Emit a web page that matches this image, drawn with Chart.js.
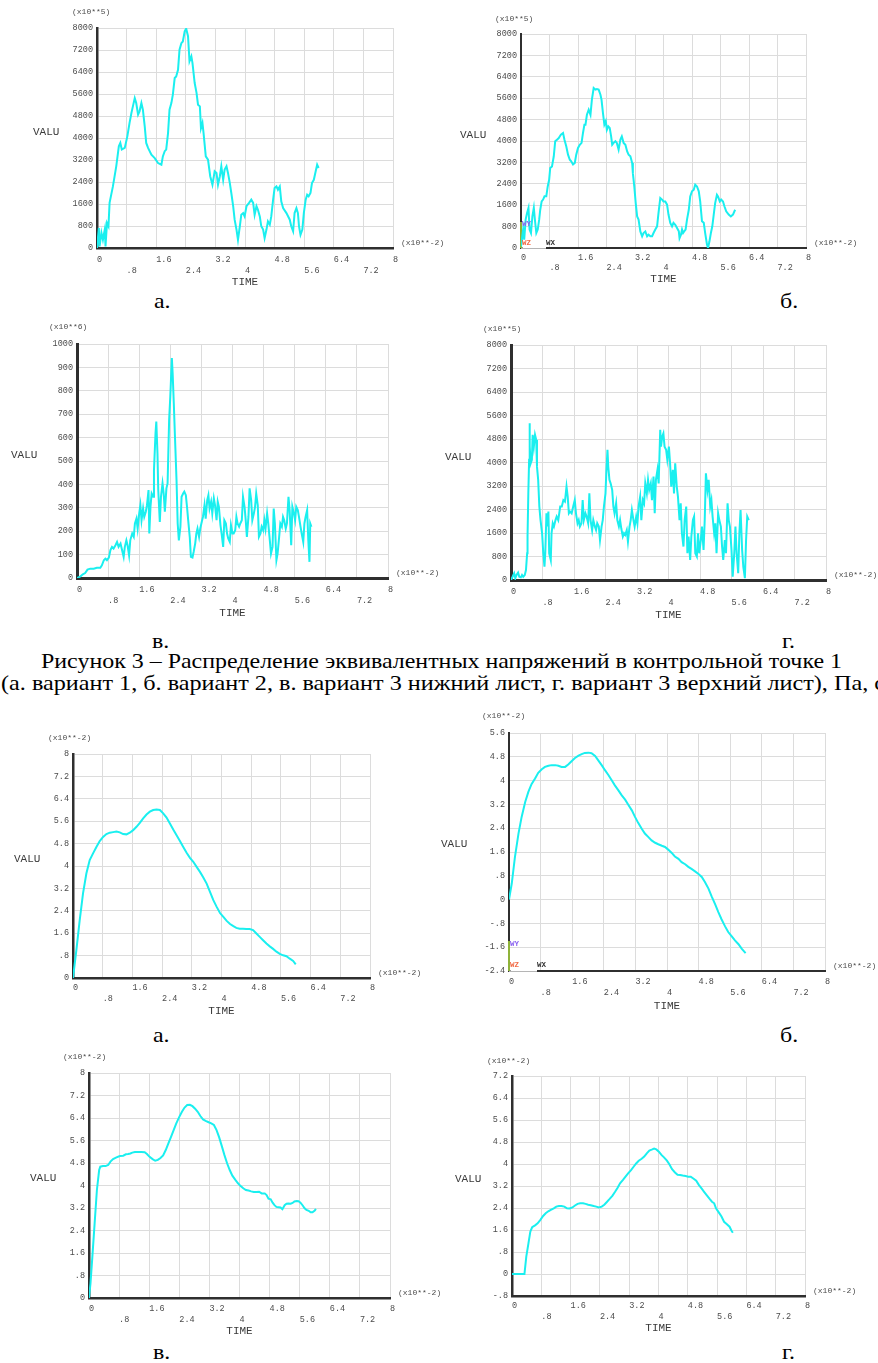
<!DOCTYPE html>
<html>
<head>
<meta charset="utf-8">
<title>Рисунок 3</title>
<script src="https://cdn.jsdelivr.net/npm/chart.js"></script>
<style>
  html, body { margin: 0; padding: 0; background: #fff; }
  body { position: relative; width: 878px; height: 1363px; overflow: hidden; }
  canvas { position: absolute; }
  .cap { position: absolute; font-family: "Liberation Serif", "Times New Roman", "DejaVu Serif", serif; font-size: 21.5px; line-height: 1; white-space: nowrap; color: #000; transform-origin: 0 0; }
</style>
</head>
<body>

<div class="cap" data-x="154" data-base="309">а.</div>
<div class="cap" data-x="780" data-base="309">б.</div>
<div class="cap" data-x="152" data-base="649">в.</div>
<div class="cap" data-x="782" data-base="649">г.</div>
<div class="cap" id="figTitle" data-x="41" data-base="669" data-w="801">Рисунок 3 – Распределение эквивалентных напряжений в контрольной точке 1</div>
<div class="cap" data-x="1" data-base="691" data-w="884">(а. вариант 1, б. вариант 2, в. вариант 3 нижний лист, г. вариант 3 верхний лист), Па, с</div>
<div class="cap" data-x="153" data-base="1043">а.</div>
<div class="cap" data-x="780" data-base="1043">б.</div>
<div class="cap" data-x="153" data-base="1360">в.</div>
<div class="cap" data-x="782" data-base="1360">г.</div>

<script>
"use strict";

// ---- axis ticks ----
var timeTicks = [0, 0.8, 1.6, 2.4, 3.2, 4, 4.8, 5.6, 6.4, 7.2, 8];
var timeLabels = ['0', '.8', '1.6', '2.4', '3.2', '4', '4.8', '5.6', '6.4', '7.2', '8'];

var stressTicks = [0, 800, 1600, 2400, 3200, 4000, 4800, 5600, 6400, 7200, 8000];
var stressLabels = ['0', '800', '1600', '2400', '3200', '4000', '4800', '5600', '6400', '7200', '8000'];
var stress6Ticks = [0, 100, 200, 300, 400, 500, 600, 700, 800, 900, 1000];
var stress6Labels = ['0', '100', '200', '300', '400', '500', '600', '700', '800', '900', '1000'];

var dispTicks = [0, 0.8, 1.6, 2.4, 3.2, 4, 4.8, 5.6, 6.4, 7.2, 8];
var dispLabels = ['0', '.8', '1.6', '2.4', '3.2', '4', '4.8', '5.6', '6.4', '7.2', '8'];
var dispBTicks = [-2.4, -1.6, -0.8, 0, 0.8, 1.6, 2.4, 3.2, 4, 4.8, 5.6];
var dispBLabels = ['-2.4', '-1.6', '-.8', '0', '.8', '1.6', '2.4', '3.2', '4', '4.8', '5.6'];
var dispGTicks = [-0.8, 0, 0.8, 1.6, 2.4, 3.2, 4, 4.8, 5.6, 6.4, 7.2];
var dispGLabels = ['-.8', '0', '.8', '1.6', '2.4', '3.2', '4', '4.8', '5.6', '6.4', '7.2'];

// ---- stress, variant 1 (x10**5) ----
var s1Time = [0, 0.05, 0.07, 0.12, 0.16, 0.21, 0.23, 0.27, 0.31, 0.34,
  0.43, 0.52, 0.59, 0.63, 0.67, 0.75, 0.82, 0.88, 0.93, 0.97,
  1.02, 1.06, 1.11, 1.15, 1.20, 1.24, 1.29, 1.33, 1.38, 1.47,
  1.56, 1.65, 1.74, 1.78, 1.83, 1.87, 1.92, 1.96, 2.01, 2.05,
  2.10, 2.14, 2.19, 2.23, 2.28, 2.32, 2.37, 2.41, 2.46, 2.50,
  2.55, 2.58, 2.64, 2.69, 2.73, 2.78, 2.81, 2.85, 2.88, 2.94,
  3.00, 3.06, 3.12, 3.18, 3.23, 3.27, 3.32, 3.36, 3.41, 3.45,
  3.50, 3.54, 3.59, 3.63, 3.68, 3.72, 3.77, 3.81, 3.86, 3.90,
  3.95, 3.99, 4.04, 4.11, 4.17, 4.22, 4.26, 4.31, 4.35, 4.40,
  4.44, 4.49, 4.53, 4.58, 4.62, 4.67, 4.71, 4.76, 4.80, 4.85,
  4.89, 4.94, 4.98, 5.03, 5.12, 5.21, 5.25, 5.30, 5.34, 5.39,
  5.43, 5.46, 5.50, 5.55, 5.59, 5.64, 5.68, 5.72, 5.77, 5.81,
  5.86, 5.90, 5.95, 5.99];
var s1Value = [0, 730, 60, 550, 300, 670, 60, 910, 790, 1640,
  2240, 2970, 3700, 3820, 3580, 3640, 4060, 4550, 4910, 5150,
  5450, 5270, 4850, 4970, 5270, 5030, 4420, 3820, 3640, 3390,
  3270, 3090, 3030, 3330, 3520, 3580, 4180, 5030, 5270, 5580,
  6180, 6240, 6480, 7210, 7450, 7510, 7880, 7980, 7700, 6790,
  6970, 6730, 6000, 5640, 5210, 5150, 4360, 4550, 4180, 3330,
  3210, 2610, 2300, 2790, 2730, 2300, 2610, 2970, 2480, 2850,
  2970, 2730, 2360, 2000, 1520, 1030, 670, 300, 790, 1210,
  1270, 1150, 1520, 1640, 1760, 1640, 1210, 1520, 1390, 1150,
  790, 670, 360, 670, 970, 850, 1150, 1760, 2180, 2240,
  2120, 2240, 1700, 1450, 1270, 1030, 790, 610, 1270, 1450,
  1270, 790, 480, 670, 1270, 1760, 1940, 1880, 2000, 2360,
  2480, 2730, 3030, 2910];

// ---- stress, variant 2 (x10**5) ----
var s2Time = [0, 0.06, 0.09, 0.13, 0.17, 0.21, 0.24, 0.28, 0.32, 0.36,
  0.39, 0.43, 0.47, 0.51, 0.54, 0.58, 0.62, 0.66, 0.71, 0.75,
  0.79, 0.82, 0.87, 0.92, 0.96, 1.01, 1.06, 1.12, 1.18, 1.22,
  1.27, 1.32, 1.37, 1.41, 1.46, 1.51, 1.55, 1.60, 1.65, 1.70,
  1.74, 1.78, 1.81, 1.85, 1.90, 1.95, 1.99, 2.04, 2.09, 2.13,
  2.18, 2.23, 2.26, 2.30, 2.34, 2.38, 2.41, 2.45, 2.49, 2.53,
  2.56, 2.60, 2.65, 2.69, 2.74, 2.79, 2.83, 2.88, 2.93, 2.98,
  3.02, 3.07, 3.12, 3.14, 3.18, 3.22, 3.26, 3.30, 3.35, 3.40,
  3.44, 3.49, 3.54, 3.58, 3.63, 3.68, 3.72, 3.77, 3.82, 3.86,
  3.91, 3.96, 4.00, 4.05, 4.10, 4.14, 4.19, 4.24, 4.28, 4.33,
  4.38, 4.43, 4.45, 4.49, 4.52, 4.55, 4.58, 4.62, 4.66, 4.71,
  4.75, 4.80, 4.85, 4.89, 4.94, 4.99, 5.03, 5.08, 5.13, 5.17,
  5.22, 5.25, 5.29, 5.33, 5.37, 5.41, 5.45, 5.50, 5.53, 5.58,
  5.62, 5.67, 5.71, 5.76, 5.83, 5.89, 5.95, 6.01];
var s2Value = [60, 690, 310, 1060, 1310, 1500, 690, 560, 1180, 1500,
  1060, 560, 690, 1060, 1430, 1740, 1810, 1930, 1930, 2300,
  2550, 2990, 3050, 3430, 3990, 4050, 4110, 4240, 4300, 4050,
  3800, 3490, 3300, 3240, 3120, 3180, 3490, 3740, 3860, 3930,
  4300, 4610, 4610, 4980, 5170, 4980, 5550, 5980, 5920, 5940,
  5920, 5730, 5550, 5050, 4610, 4740, 4420, 4550, 4490, 4170,
  3860, 3930, 3990, 3930, 3680, 4050, 4170, 3930, 3860, 3610,
  3490, 3430, 3180, 2800, 2300, 1680, 1180, 1060, 620, 440,
  560, 620, 440, 500, 440, 440, 560, 690, 810, 1310,
  1870, 1810, 1740, 1740, 1620, 1250, 940, 810, 940, 870,
  750, 620, 370, 500, 690, 560, 620, 690, 1060, 1430,
  1930, 2120, 2180, 2370, 2300, 2120, 1740, 1000, 940, 560,
  130, 0, 250, 560, 810, 1250, 1680, 1990, 1930, 1740,
  1810, 1740, 1560, 1370, 1250, 1180, 1250, 1430];

// ---- stress, variant 3 lower sheet (x10**6) ----
var s3Time = [0, 0.09, 0.15, 0.21, 0.27, 0.34, 0.43, 0.51, 0.60, 0.64,
  0.69, 0.73, 0.77, 0.82, 0.86, 0.90, 0.94, 0.99, 1.03, 1.07,
  1.12, 1.16, 1.20, 1.23, 1.27, 1.30, 1.34, 1.37, 1.42, 1.46,
  1.49, 1.53, 1.56, 1.60, 1.63, 1.66, 1.70, 1.73, 1.77, 1.80,
  1.84, 1.86, 1.89, 1.92, 1.96, 1.98, 2.02, 2.04, 2.07, 2.09,
  2.13, 2.16, 2.20, 2.23, 2.26, 2.30, 2.33, 2.37, 2.40, 2.44,
  2.46, 2.49, 2.52, 2.56, 2.59, 2.62, 2.66, 2.69, 2.73, 2.76,
  2.80, 2.83, 2.86, 2.90, 2.93, 2.97, 3.00, 3.04, 3.07, 3.10,
  3.14, 3.17, 3.21, 3.24, 3.28, 3.31, 3.35, 3.38, 3.41, 3.45,
  3.48, 3.52, 3.55, 3.59, 3.62, 3.65, 3.69, 3.72, 3.76, 3.79,
  3.83, 3.86, 3.89, 3.93, 3.96, 4.00, 4.03, 4.07, 4.10, 4.13,
  4.17, 4.20, 4.24, 4.27, 4.31, 4.34, 4.37, 4.41, 4.44, 4.48,
  4.51, 4.55, 4.58, 4.61, 4.65, 4.68, 4.72, 4.75, 4.79, 4.82,
  4.85, 4.89, 4.92, 4.96, 4.99, 5.03, 5.06, 5.09, 5.13, 5.16,
  5.20, 5.23, 5.27, 5.30, 5.33, 5.37, 5.40, 5.44, 5.47, 5.51,
  5.54, 5.58, 5.61, 5.64, 5.68, 5.71, 5.75, 5.78, 5.82, 5.85,
  5.88, 5.92, 5.95, 5.98, 6.00, 6.03];
var s3Value = [0, 7, 16, 21, 36, 40, 40, 44, 44, 54,
  76, 83, 76, 87, 119, 133, 126, 140, 154, 133,
  147, 119, 90, 133, 161, 140, 97, 161, 190, 176,
  233, 254, 211, 276, 311, 247, 297, 261, 283, 311,
  376, 190, 304, 361, 347, 461, 619, 669, 533, 376,
  240, 347, 404, 361, 283, 383, 404, 676, 776, 940,
  876, 747, 604, 419, 233, 161, 219, 347, 361, 369,
  354, 304, 247, 176, 90, 87, 111, 147, 190, 211,
  176, 211, 240, 261, 311, 254, 333, 354, 297, 326,
  276, 340, 311, 247, 326, 304, 226, 190, 133, 247,
  233, 190, 169, 154, 226, 190, 190, 204, 261, 233,
  219, 233, 247, 347, 304, 247, 176, 261, 383, 333,
  247, 276, 304, 361, 311, 176, 190, 219, 204, 247,
  211, 276, 233, 161, 104, 133, 297, 233, 76, 104,
  176, 233, 219, 261, 247, 211, 233, 347, 290, 140,
  304, 276, 247, 304, 290, 261, 219, 190, 154, 233,
  261, 290, 161, 69, 233, 219];

// ---- stress, variant 3 upper sheet (x10**5) ----
var s4Time = [0, 0.04, 0.08, 0.11, 0.14, 0.18, 0.21, 0.25, 0.28, 0.31,
  0.35, 0.38, 0.41, 0.42, 0.44, 0.46, 0.47, 0.48, 0.50, 0.53,
  0.55, 0.58, 0.61, 0.64, 0.66, 0.69, 0.72, 0.75, 0.79, 0.82,
  0.85, 0.87, 0.90, 0.92, 0.95, 0.97, 1.01, 1.03, 1.06, 1.09,
  1.13, 1.16, 1.20, 1.25, 1.29, 1.33, 1.37, 1.41, 1.44, 1.47,
  1.50, 1.54, 1.58, 1.62, 1.65, 1.69, 1.72, 1.75, 1.79, 1.82,
  1.85, 1.89, 1.92, 1.96, 1.99, 2.02, 2.06, 2.09, 2.13, 2.16,
  2.19, 2.23, 2.26, 2.30, 2.33, 2.36, 2.40, 2.42, 2.45, 2.47,
  2.50, 2.53, 2.57, 2.60, 2.63, 2.67, 2.70, 2.74, 2.77, 2.80,
  2.84, 2.87, 2.90, 2.94, 2.97, 3.01, 3.04, 3.07, 3.11, 3.14,
  3.18, 3.21, 3.24, 3.28, 3.31, 3.35, 3.38, 3.41, 3.45, 3.48,
  3.51, 3.55, 3.58, 3.62, 3.65, 3.68, 3.72, 3.75, 3.79, 3.81,
  3.84, 3.87, 3.90, 3.94, 3.97, 4.01, 4.04, 4.07, 4.11, 4.14,
  4.17, 4.21, 4.24, 4.28, 4.31, 4.34, 4.38, 4.41, 4.45, 4.48,
  4.51, 4.55, 4.58, 4.62, 4.65, 4.68, 4.72, 4.75, 4.78, 4.82,
  4.85, 4.89, 4.92, 4.95, 4.99, 5.02, 5.06, 5.09, 5.12, 5.16,
  5.19, 5.22, 5.26, 5.29, 5.33, 5.36, 5.39, 5.43, 5.46, 5.50,
  5.53, 5.56, 5.60, 5.63, 5.67, 5.70, 5.73, 5.77, 5.80, 5.83,
  5.87, 5.90, 5.94, 5.97, 6.00, 6.04];
var s4Value = [0, 110, 230, 60, 170, 250, 110, 90, 170, 110,
  170, 340, 910, 1480, 2950, 4090, 5340, 4540, 3970, 4090,
  4940, 4540, 4940, 4770, 3860, 3410, 2500, 2040, 1590, 910,
  450, 910, 2270, 1820, 2330, 910, 680, 1590, 1930, 1820,
  2040, 2160, 2040, 2500, 2500, 2720, 2670, 3180, 2840, 2270,
  2330, 2270, 2500, 2720, 2270, 1930, 2040, 1820, 1930, 2720,
  2040, 2270, 2160, 1930, 2950, 2040, 1700, 2040, 1820, 1700,
  1930, 1820, 1360, 1820, 2040, 2500, 2950, 3630, 4430, 3860,
  3410, 3290, 3070, 2500, 2270, 2610, 2040, 1820, 2040, 1760,
  1480, 1590, 1530, 1700, 1310, 1820, 2040, 2380, 2040, 1820,
  2160, 1930, 2500, 2840, 2040, 2720, 2610, 3290, 2950, 3410,
  3070, 3290, 2720, 3520, 2270, 3410, 3750, 3290, 5110, 4540,
  4880, 4990, 4540, 4430, 4090, 4540, 3970, 3180, 3750, 2950,
  3970, 3180, 2840, 2040, 2610, 1590, 1140, 2040, 2500, 910,
  1480, 680, 1480, 2040, 2160, 910, 800, 1590, 910, 1360,
  1820, 1020, 2040, 3630, 3070, 3410, 2500, 2720, 2160, 1590,
  1930, 910, 2270, 2040, 1820, 1140, 680, 1360, 910, 2610,
  2040, 1820, 1020, 110, 910, 1820, 910, 230, 1590, 2380,
  1020, 450, 60, 1360, 2160, 2040];

// ---- displacement, variant 1 (x10**-2) ----
var d1Time = [0, 0.09, 0.18, 0.27, 0.36, 0.45, 0.54, 0.63, 0.72, 0.81,
  0.90, 0.99, 1.08, 1.17, 1.26, 1.35, 1.44, 1.53, 1.62, 1.71,
  1.80, 1.89, 1.98, 2.07, 2.16, 2.25, 2.34, 2.43, 2.52, 2.61,
  2.70, 2.79, 2.88, 2.97, 3.06, 3.15, 3.24, 3.33, 3.42, 3.51,
  3.60, 3.69, 3.78, 3.87, 3.96, 4.05, 4.14, 4.23, 4.32, 4.40,
  4.49, 4.58, 4.67, 4.76, 4.85, 4.94, 5.03, 5.12, 5.21, 5.30,
  5.39, 5.48, 5.57, 5.66, 5.75, 5.84, 5.93, 6.00];
var d1Value = [0, 0.99, 2.06, 3.02, 3.73, 4.21, 4.45, 4.68, 4.89, 5.04,
  5.14, 5.19, 5.21, 5.23, 5.20, 5.14, 5.13, 5.19, 5.28, 5.40,
  5.54, 5.70, 5.84, 5.94, 6.00, 6.02, 6.00, 5.88, 5.73, 5.52,
  5.30, 5.10, 4.89, 4.68, 4.47, 4.29, 4.15, 3.97, 3.79, 3.59,
  3.37, 3.08, 2.78, 2.54, 2.32, 2.18, 2.04, 1.93, 1.85, 1.79,
  1.76, 1.76, 1.75, 1.75, 1.71, 1.59, 1.47, 1.35, 1.23, 1.13,
  1.04, 0.94, 0.86, 0.81, 0.78, 0.69, 0.61, 0.49];

// ---- displacement, variant 2 (x10**-2) ----
var d2Time = [0, 0.07, 0.15, 0.24, 0.32, 0.41, 0.49, 0.57, 0.66, 0.74,
  0.83, 0.91, 1.00, 1.08, 1.17, 1.25, 1.33, 1.42, 1.50, 1.59,
  1.67, 1.76, 1.84, 1.92, 2.01, 2.09, 2.18, 2.26, 2.35, 2.43,
  2.52, 2.60, 2.68, 2.77, 2.85, 2.94, 3.02, 3.11, 3.19, 3.27,
  3.36, 3.44, 3.53, 3.61, 3.70, 3.78, 3.87, 3.95, 4.03, 4.12,
  4.20, 4.29, 4.37, 4.46, 4.54, 4.62, 4.71, 4.79, 4.88, 4.96,
  5.05, 5.13, 5.22, 5.30, 5.38, 5.47, 5.55, 5.64, 5.72, 5.81,
  5.89, 5.99];
var d2Value = [0, 0.54, 1.43, 2.22, 2.78, 3.28, 3.62, 3.88, 4.07, 4.26,
  4.38, 4.46, 4.50, 4.52, 4.52, 4.50, 4.46, 4.46, 4.54, 4.66,
  4.76, 4.84, 4.89, 4.93, 4.94, 4.92, 4.83, 4.68, 4.51, 4.35,
  4.18, 4.01, 3.84, 3.67, 3.51, 3.36, 3.19, 3.00, 2.78, 2.58,
  2.38, 2.22, 2.10, 1.99, 1.91, 1.86, 1.81, 1.77, 1.68, 1.57,
  1.45, 1.37, 1.26, 1.19, 1.10, 1.03, 0.95, 0.87, 0.76, 0.59,
  0.37, 0.11, -0.16, -0.42, -0.66, -0.90, -1.09, -1.24, -1.37, -1.50,
  -1.65, -1.80];

// ---- displacement, variant 3 lower sheet (x10**-2) ----
var d3Time = [0, 0.04, 0.09, 0.15, 0.21, 0.27, 0.30, 0.37, 0.44, 0.51,
  0.57, 0.64, 0.73, 0.82, 0.91, 0.98, 1.04, 1.10, 1.15, 1.22,
  1.30, 1.39, 1.48, 1.54, 1.61, 1.69, 1.76, 1.83, 1.90, 1.97,
  2.04, 2.11, 2.18, 2.25, 2.32, 2.40, 2.47, 2.54, 2.61, 2.68,
  2.75, 2.82, 2.89, 2.96, 3.03, 3.10, 3.18, 3.25, 3.32, 3.39,
  3.46, 3.53, 3.60, 3.67, 3.74, 3.81, 3.89, 3.96, 4.03, 4.10,
  4.17, 4.24, 4.31, 4.38, 4.45, 4.52, 4.59, 4.67, 4.72, 4.77,
  4.83, 4.88, 4.93, 4.98, 5.04, 5.09, 5.14, 5.20, 5.25, 5.30,
  5.36, 5.41, 5.46, 5.52, 5.57, 5.62, 5.68, 5.73, 5.78, 5.84,
  5.89, 5.94, 6.00, 6.03];
var d3Value = [0, 0.53, 1.48, 2.66, 3.84, 4.55, 4.67, 4.69, 4.69, 4.73,
  4.85, 4.94, 5.00, 5.05, 5.06, 5.11, 5.12, 5.14, 5.17, 5.19,
  5.19, 5.19, 5.18, 5.12, 5.02, 4.94, 4.88, 4.91, 4.98, 5.07,
  5.26, 5.50, 5.73, 5.97, 6.21, 6.44, 6.62, 6.77, 6.86, 6.87,
  6.82, 6.73, 6.62, 6.47, 6.35, 6.30, 6.25, 6.21, 6.15, 5.97,
  5.71, 5.40, 5.08, 4.79, 4.55, 4.35, 4.20, 4.08, 3.98, 3.90,
  3.84, 3.82, 3.79, 3.77, 3.77, 3.78, 3.72, 3.72, 3.66, 3.53,
  3.51, 3.39, 3.30, 3.24, 3.23, 3.22, 3.16, 3.30, 3.35, 3.36,
  3.35, 3.38, 3.43, 3.45, 3.44, 3.39, 3.29, 3.19, 3.13, 3.10,
  3.05, 3.05, 3.11, 3.17];

// ---- displacement, variant 3 upper sheet (x10**-2) ----
var d4Time = [0, 0.14, 0.27, 0.34, 0.39, 0.45, 0.50, 0.55, 0.63, 0.70,
  0.77, 0.85, 0.92, 0.99, 1.06, 1.14, 1.21, 1.28, 1.35, 1.43,
  1.50, 1.57, 1.65, 1.72, 1.79, 1.86, 1.94, 2.01, 2.08, 2.15,
  2.23, 2.30, 2.37, 2.45, 2.52, 2.59, 2.66, 2.74, 2.81, 2.88,
  2.95, 3.03, 3.10, 3.17, 3.25, 3.32, 3.39, 3.46, 3.54, 3.61,
  3.68, 3.75, 3.83, 3.88, 3.94, 4.01, 4.08, 4.15, 4.23, 4.30,
  4.37, 4.45, 4.52, 4.59, 4.66, 4.74, 4.81, 4.88, 4.95, 5.03,
  5.10, 5.17, 5.25, 5.32, 5.39, 5.46, 5.52, 5.57, 5.65, 5.72,
  5.79, 5.86, 5.94, 5.99, 6.03];
var d4Value = [0, 0, 0, 0, 0.63, 1.12, 1.54, 1.70, 1.77, 1.84,
  1.96, 2.11, 2.21, 2.28, 2.33, 2.39, 2.45, 2.47, 2.47, 2.45,
  2.39, 2.38, 2.42, 2.49, 2.55, 2.57, 2.57, 2.55, 2.52, 2.50,
  2.47, 2.45, 2.42, 2.45, 2.52, 2.62, 2.72, 2.84, 2.98, 3.13,
  3.30, 3.42, 3.54, 3.66, 3.78, 3.90, 4.02, 4.12, 4.19, 4.27,
  4.39, 4.49, 4.53, 4.56, 4.53, 4.45, 4.33, 4.24, 4.12, 3.98,
  3.81, 3.69, 3.61, 3.60, 3.58, 3.56, 3.54, 3.54, 3.47, 3.39,
  3.24, 3.12, 2.98, 2.86, 2.74, 2.63, 2.57, 2.39, 2.23, 2.09,
  1.90, 1.82, 1.72, 1.58, 1.50];

// ---- look ----
var CYAN = '#1aefef', GRID = '#dcdcdc', AXIS = '#2f2f2f', INK = '#4c4c4c';
var MONO = '"Liberation Mono", "DejaVu Sans Mono", monospace';
var ML = 72, MT = 22, MR = 56, MB = 44;   // canvas margins round the plot box

// where each plot box sits on the page, and its side texts
var panels = [
  { time: s1Time, value: s1Value, yTicks: stressTicks, yLabels: stressLabels, exp: '(x10**5)',
    area: [97, 28, 393, 248], axis: 2.5, xPad: 6.5, xLine: 11, expAt: [-25, -16], valuAt: [-64, -6], timeAt: 34 },
  { time: s2Time, value: s2Value, yTicks: stressTicks, yLabels: stressLabels, exp: '(x10**5)',
    area: [521, 34, 806, 248], axis: 2, xPad: 5, xLine: 10, expAt: [-26, -15], valuAt: [-61, -6], timeAt: 31,
    triad: { wy: -24, wz: -5, wx: 25, h: 26 } },
  { time: s3Time, value: s3Value, yTicks: stress6Ticks, yLabels: stress6Labels, exp: '(x10**6)',
    area: [77, 344, 388, 578], axis: 3, xPad: 6.5, xLine: 11, expAt: [-28, -17], valuAt: [-66, -6], timeAt: 35 },
  { time: s4Time, value: s4Value, yTicks: stressTicks, yLabels: stressLabels, exp: '(x10**5)',
    area: [511, 345, 826, 580], axis: 3, xPad: 6.5, xLine: 11, expAt: [-28, -16], valuAt: [-66, -5], timeAt: 35 },
  { time: d1Time, value: d1Value, yTicks: dispTicks, yLabels: dispLabels, exp: '(x10**-2)',
    area: [73, 754, 370, 978], axis: 2.5, xPad: 4.5, xLine: 11, expAt: [-25, -16], valuAt: [-59, -7], timeAt: 33 },
  { time: d2Time, value: d2Value, yTicks: dispBTicks, yLabels: dispBLabels, exp: '(x10**-2)',
    area: [509, 733, 825, 971], axis: 2, xPad: 5.5, xLine: 11, expAt: [-27, -17], valuAt: [-68, -8], timeAt: 35,
    triad: { wy: -27, wz: -6, wx: 28, h: 30 } },
  { time: d3Time, value: d3Value, yTicks: dispTicks, yLabels: dispLabels, exp: '(x10**-2)',
    area: [89, 1073, 390, 1298], axis: 2.5, xPad: 5.5, xLine: 11, expAt: [-26, -16], valuAt: [-59, -7], timeAt: 33 },
  { time: d4Time, value: d4Value, yTicks: dispGTicks, yLabels: dispGLabels, exp: '(x10**-2)',
    area: [512, 1076, 805, 1296], axis: 2.5, xPad: 4.5, xLine: 11, expAt: [-25, -15], valuAt: [-57, -7], timeAt: 32 }
];

// texts round the plot box, the way the solver prints them
var ansysText = {
  id: 'ansysText',
  beforeDatasetsDraw: function(chart, args, o) {
    if (!o.triad) return;
    var ctx = chart.ctx, a = chart.chartArea, tr = o.triad;
    ctx.save();
    ctx.strokeStyle = '#fff';
    ctx.lineWidth = o.axis + 1.5;
    ctx.beginPath(); ctx.moveTo(a.left + 1.5, a.bottom); ctx.lineTo(a.left + tr.wx, a.bottom); ctx.stroke();
    ctx.strokeStyle = '#b5b5b5';
    ctx.lineWidth = 1;
    ctx.beginPath(); ctx.moveTo(a.left, a.bottom + 0.5); ctx.lineTo(a.left + tr.wx, a.bottom + 0.5); ctx.stroke();
    ctx.strokeStyle = '#8fb33a';
    ctx.lineWidth = o.axis;
    ctx.beginPath(); ctx.moveTo(a.left, a.bottom); ctx.lineTo(a.left, a.bottom - tr.h); ctx.stroke();
    ctx.restore();
  },
  afterDraw: function(chart, args, o) {
    var ctx = chart.ctx, a = chart.chartArea;
    ctx.save();
    ctx.textBaseline = 'middle';
    ctx.textAlign = 'left';
    ctx.fillStyle = INK;
    ctx.font = '8px ' + MONO;
    ctx.fillText(o.exp, a.left + o.expAt[0], a.top + o.expAt[1]);
    ctx.fillText('(x10**-2)', a.right + 8, a.bottom - 5);
    ctx.fillStyle = '#3a3a3a';
    ctx.font = '11px ' + MONO;
    ctx.fillText('VALU', a.left + o.valuAt[0], (a.top + a.bottom) / 2 + o.valuAt[1]);
    ctx.textAlign = 'center';
    ctx.fillText('TIME', (a.left + a.right) / 2, a.bottom + o.timeAt);
    if (o.triad) {
      ctx.textAlign = 'left';
      ctx.font = 'bold 7.5px ' + MONO;
      ctx.fillStyle = '#8a63f0';
      ctx.fillText('WY', a.left + 1, a.bottom + o.triad.wy);
      ctx.fillStyle = '#f26a45';
      ctx.fillText('WZ', a.left + 1, a.bottom + o.triad.wz);
      ctx.fillStyle = '#333';
      ctx.fillText('WX', a.left + o.triad.wx, a.bottom + o.triad.wz);
    }
    ctx.restore();
  }
};

function drawPanel(p) {
  var l = p.area[0], t = p.area[1], r = p.area[2], b = p.area[3];
  var w = r - l + ML + MR, h = b - t + MT + MB;
  var canvas = document.createElement('canvas');
  canvas.width = w;
  canvas.height = h;
  canvas.style.left = (l - ML) + 'px';
  canvas.style.top = (t - MT) + 'px';
  canvas.style.width = w + 'px';
  canvas.style.height = h + 'px';
  document.body.appendChild(canvas);

  var points = p.time.map(function(x, i) { return { x: x, y: p.value[i] }; });
  var yTicks = p.yTicks, yLabels = p.yLabels;

  new Chart(canvas.getContext('2d'), {
    type: 'line',
    data: { datasets: [{ data: points, borderColor: CYAN, borderWidth: 2, pointRadius: 0, tension: 0, fill: false }] },
    options: {
      responsive: false,
      animation: false,
      devicePixelRatio: 1,
      layout: { padding: { left: 0, top: MT, right: MR, bottom: 0 } },
      plugins: {
        legend: { display: false },
        tooltip: { enabled: false },
        ansysText: p
      },
      scales: {
        x: {
          type: 'linear', min: 0, max: 8,
          afterFit: function(s) { s.height = MB; },
          afterBuildTicks: function(s) { s.ticks = timeTicks.map(function(v) { return { value: v }; }); },
          grid: { color: GRID, lineWidth: 1, drawTicks: false },
          border: { display: true, color: AXIS, width: p.axis },
          ticks: {
            autoSkip: false, maxRotation: 0, minRotation: 0, align: 'start', padding: p.xPad, color: INK,
            font: { family: MONO, size: 8.5, lineHeight: p.xLine + 'px' },
            // ticks alternate between two rows
            callback: function(v, i) { return i % 2 ? ['', timeLabels[i]] : timeLabels[i]; }
          }
        },
        y: {
          type: 'linear', min: yTicks[0], max: yTicks[yTicks.length - 1],
          afterFit: function(s) { s.width = ML; },
          afterBuildTicks: function(s) { s.ticks = yTicks.map(function(v) { return { value: v }; }); },
          grid: { color: GRID, lineWidth: 1, drawTicks: false },
          border: { display: true, color: AXIS, width: p.axis },
          ticks: {
            autoSkip: false, padding: 4, color: INK,
            font: { family: MONO, size: 8.5 },
            callback: function(v, i) { return yLabels[i]; }
          }
        }
      }
    },
    plugins: [ansysText]
  });
}

panels.forEach(drawPanel);

// captions: each long line is stretched to the width it has in the figure
var FS = 21.5;
var title = document.getElementById('figTitle');
var baseSx = Math.min(1.3, 801 / title.getBoundingClientRect().width);
document.querySelectorAll('.cap').forEach(function(el) {
  var target = el.getAttribute('data-w');
  var sx = target ? Math.min(1.3, parseFloat(target) / el.getBoundingClientRect().width) : baseSx;
  el.style.left = el.getAttribute('data-x') + 'px';
  el.style.top = (parseFloat(el.getAttribute('data-base')) - 0.8375 * FS) + 'px';
  el.style.transform = 'scaleX(' + sx + ')';
});
</script>
</body>
</html>
